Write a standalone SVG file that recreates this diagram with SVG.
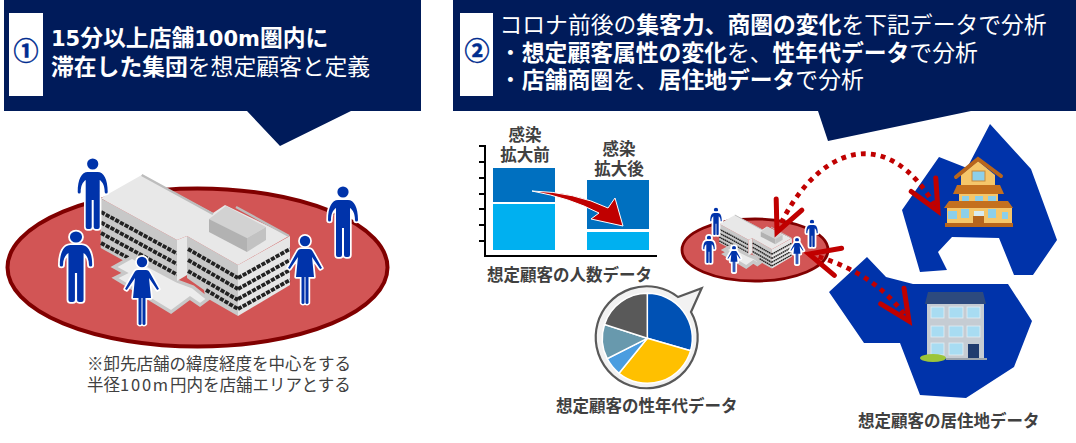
<svg xmlns="http://www.w3.org/2000/svg" xmlns:xlink="http://www.w3.org/1999/xlink" width="1076" height="443" viewBox="0 0 1076 443">
<style>
text{font-family:"Noto Sans CJK JP","Liberation Sans",sans-serif}
.w{fill:#fff;font-size:22.8px}
.b{font-weight:700}
.l{font-family:"DejaVu Sans",sans-serif;font-size:21px;font-weight:700}
.num{fill:#002d8f;stroke:#002d8f;stroke-width:.5;font-size:25px;font-weight:700;text-anchor:middle}
.cap{fill:#404040;font-size:16.5px;font-weight:700}
.note{fill:#404040;font-size:16.5px}
.ns{letter-spacing:1.8px}
.mid{text-anchor:middle}
.banner{fill:#001b5a}
.area{fill:#d25555;stroke:#800000}
.map{fill:#0033aa}
.person{fill:#0033aa;stroke:#fff;paint-order:stroke;stroke-linejoin:round}
.large{stroke-width:3.400}
.small{stroke-width:9}
.win{stroke:#222;stroke-width:3.800;stroke-dasharray:4.200 1.200;fill:none}
.dot{fill:none;stroke:#c00000;stroke-width:4.800;stroke-dasharray:4.800 5.200;marker-start:url(#v);marker-end:url(#v)}
.gl{fill:#8ccfea}
.ap{fill:#a8dcf2;stroke:#e4eef3;stroke-width:.8}
</style>
<defs>
<marker id="v" markerUnits="userSpaceOnUse" markerWidth="50" markerHeight="50" refX="36" refY="25" orient="auto-start-reverse" viewBox="0 0 50 50">
<path d="M6,11 L36,25 L6,39" fill="none" stroke="#c00000" stroke-width="5" stroke-linecap="round" stroke-dasharray="none"/>
</marker>
<g id="man"><circle class="person" cx="0" cy="0" r="5.600"/><path class="person" d="M-5,8H5C11,8 15,15 15,28a1.500,1.500 0 0 1-3,0C12,22 10,18 7,16V63a2,2 0 0 1-2,2H3a2,2 0 0 1-2-2V36H-1V63a2,2 0 0 1-2,2H-5a2,2 0 0 1-2-2V16C-10,18-12,22-12,28a1.500,1.500 0 0 1-3,0C-15,15-11,8-5,8Z"/></g>
<g id="woman"><circle class="person" cx="0" cy="0" r="5.200"/><path class="person" d="M-4,8H4C6,8 7,9 8,11L17,27 15.200,28 7,16 9,36H3.500V62a1.700,1.700 0 0 1-3,0V36H-0.500V62a1.700,1.700 0 0 1-3,0V36H-9L-7,16-15.200,28-17,27-8,11C-7,9-6,8-4,8Z"/></g>
<g id="building">
<polygon points="100.700,198.300 177,240 177,290 100.700,248" fill="#c8c8c8"/>
<g class="win"><path d="M101,212 177,253.500"/><path d="M101,222.500 177,264"/><path d="M101,233 177,274.500"/><path d="M101,243 177,284.500"/></g>
<polygon points="114,267 132,257 177,281 193,287 208,299 200,305 190,298 171,312 115,278 125,273" fill="#ececec" stroke="#c8c8c8"/>
<polygon points="177,240 187,236 187,275 177,281" fill="#e8e8e8"/>
<polygon points="187,236 238,265 238,316 205,297 204,290 187,278" fill="#c8c8c8"/>
<g class="win"><path d="M188,249 238,278"/><path d="M188,260 238,289"/><path d="M188,271 238,300"/><path d="M206,290 238,309"/></g>
<polygon points="238,265 290,236 290,285 238,316" fill="#e6e6e6"/>
<g class="win"><path d="M238,278 290,249"/><path d="M238,289 290,260"/><path d="M238,299 290,270"/><path d="M238,309 290,280"/></g>
<polygon points="100.700,198.300 141.700,175 213,213 225,205 289,236 238,265 187,236 177,240" fill="#e8e8e8"/>
<path d="M141.700,175 213,214M236,207 289,236" stroke="#bdbdbd" stroke-width="2.500" fill="none"/>
<polygon points="209,219 226,206 266,227 247,238" fill="#d2d2d2"/>
<polygon points="209,219 247,238 247,252 209,232" fill="#b2b2b2"/>
<polygon points="247,238 266,227 266,240 247,252" fill="#c2c2c2"/>
</g>
</defs>

<g id="banner-1">
<polygon class="banner" points="4,0 421,0 421,111 351,111 280,146 247,111 4,111"/>
<rect x="9" y="13" width="34" height="83" fill="#fff"/>
<text class="num" x="26" y="60">①</text>
<text class="w b" x="51" y="46"><tspan class="l">15</tspan>分以上店舗<tspan class="l">100m</tspan>圏内に</text>
<text class="w" x="51" y="75"><tspan class="b">滞在した集団</tspan>を想定顧客と定義</text>
</g>

<g id="banner-2">
<polygon class="banner" points="453,0 1076,0 1076,111 971,111 828,141 818,111 453,111"/>
<rect x="460" y="13" width="33" height="83" fill="#fff"/>
<text class="num" x="477" y="60">②</text>
<text class="w" x="499.500" y="33">コロナ前後の<tspan class="b">集客力、商圏の変化</tspan>を下記データで分析</text>
<text class="w" x="499" y="61">・<tspan class="b">想定顧客属性の変化</tspan>を、<tspan class="b">性年代データ</tspan>で分析</text>
<text class="w" x="499" y="88">・<tspan class="b">店舗商圏</tspan>を、<tspan class="b">居住地データ</tspan>で分析</text>
</g>

<g id="store-area-large" class="large">
<ellipse class="area" cx="197.500" cy="267.500" rx="190" ry="79" stroke-width="4"/>
<use href="#building"/>
<use href="#man" transform="translate(92.700,164)"/>
<use href="#man" transform="translate(76,237) scale(1.08,1)"/>
<use href="#man" transform="translate(343,192)"/>
<use href="#woman" transform="translate(142,262)"/>
<use href="#woman" transform="translate(305,241)"/>
</g>
<g id="note">
<text class="note" x="87" y="370">※卸先店舗の緯度経度を中心をする</text>
<text class="note" x="87" y="391">半径<tspan class="ns">100m</tspan>円内を店舗エリアとする</text>
</g>

<g id="count-chart">
<path d="M479,146H485V256M479,162H485M479,178H485M479,194H485M479,209H485M479,225H485M479,241H485M484,256H657" fill="none" stroke="#000" stroke-width="2"/>
<rect x="493" y="168" width="62" height="34" fill="#0070c0"/>
<rect x="493" y="204" width="62" height="46" fill="#00b0f0"/>
<rect x="587" y="180" width="62" height="49" fill="#0070c0"/>
<rect x="587" y="232" width="62" height="18" fill="#00b0f0"/>
<path d="M532,191Q575,192 608,208L615,198 623,226 591,219 599,213Q570,198 532,191Z" fill="#c00000" stroke="#fff" stroke-width="1"/>
<text class="cap mid" x="525" y="141">感染</text>
<text class="cap mid" x="525" y="161">拡大前</text>
<text class="cap mid" x="619" y="155">感染</text>
<text class="cap mid" x="619" y="175">拡大後</text>
<text class="cap" x="487" y="281">想定顧客の人数データ</text>
</g>

<g id="pie-bubble">
<path d="M678,297 701.700,288.300 691,312A51,51 0 1 1 678,297Z" fill="#f2f2f2" stroke="#595959" stroke-width="2.200"/>
<g stroke="#fff" stroke-width="1.500">
<path d="M647.300,338.300V293.300A45,45 0 0 1 690.600,350.700Z" fill="#0051b4"/>
<path d="M647.300,338.300L690.600,350.700A45,45 0 0 1 619,373.300Z" fill="#ffc000"/>
<path d="M647.300,338.300L619,373.300A45,45 0 0 1 607.200,358.700Z" fill="#4a9de0"/>
<path d="M647.300,338.300L607.200,358.700A45,45 0 0 1 604.500,324.400Z" fill="#6899ad"/>
<path d="M647.300,338.300L604.500,324.400A45,45 0 0 1 647.300,293.300Z" fill="#595959"/>
</g>
<text class="cap" x="556" y="412">想定顧客の性年代データ</text>
</g>

<g id="store-area-small" class="small">
<ellipse class="area" cx="755" cy="250" rx="73" ry="31" stroke-width="2.800"/>
<use href="#building" transform="translate(680.500,148.500) scale(.384,.38)"/>
<use href="#man" transform="translate(716,210) scale(.385)"/>
<use href="#man" transform="translate(709,238) scale(.385)"/>
<use href="#man" transform="translate(812,222) scale(.385)"/>
<use href="#woman" transform="translate(734,248) scale(.385)"/>
<use href="#woman" transform="translate(797,240) scale(.385)"/>
</g>

<g id="residence-house">
<polygon class="map" points="990,124 1031,169 1057,240 1033,275 1014,275 999,238 952,237 938,252 947,270 920,272 902,210 939,157 967,168"/>
<polygon points="961,187 961,175 978,161 995,175 995,187" fill="#f5c66a"/>
<path d="M956,177 978,159 1001,176" fill="none" stroke="#b8651b" stroke-width="4" stroke-linecap="round"/>
<rect x="972" y="171" width="13" height="10" fill="#8ccfea" stroke="#c98a3a"/>
<rect x="959" y="194" width="39" height="9" fill="#f5c66a"/>
<g class="gl"><rect x="962" y="196" width="7" height="9"/><rect x="975" y="196" width="8" height="9"/><rect x="988" y="196" width="8" height="9"/></g>
<polygon points="957,185 1000,185 1004,194 953,194" fill="#c4701e"/>
<polygon points="949,201 1008,201 1013,208 944,208" fill="#c4701e"/>
<rect x="947" y="208" width="65" height="16" fill="#f5c66a"/>
<g class="gl"><rect x="948" y="211" width="9" height="8"/><rect x="961" y="209" width="8" height="9"/><rect x="988" y="209" width="8" height="9"/><rect x="1002" y="212" width="6" height="7"/></g>
<rect x="974" y="211" width="10" height="5" fill="#d8ecf2"/>
<rect x="973" y="216" width="11" height="8" fill="#b5651d"/>
<rect x="945" y="223" width="68" height="4" fill="#b8651b"/>
</g>

<g id="residence-apartment">
<polygon class="map" points="867,257 886,277 913,284 1008,284 1032,321 1014,367 966,398 920,395 900,343 864,343 829,292"/>
<polygon points="928,292 983,292 986,304 925,304" fill="#2d4a7e"/>
<rect x="927" y="304" width="57" height="54" fill="#c5ccd3"/>
<g class="ap"><rect x="931" y="307" width="13" height="11"/><rect x="949" y="307" width="14" height="11"/><rect x="967" y="307" width="13" height="11"/><rect x="931" y="326" width="13" height="11"/><rect x="949" y="326" width="14" height="11"/><rect x="967" y="326" width="13" height="11"/><rect x="931" y="343" width="13" height="12"/><rect x="949" y="343" width="14" height="12"/></g>
<rect x="968" y="344" width="11" height="14" fill="#1f3b6e"/>
<rect x="946" y="358" width="41" height="2" fill="#9aa3ad"/>
<ellipse cx="933" cy="358" rx="13" ry="4" fill="#9cc53a"/>
<text class="cap" x="858" y="427">想定顧客の居住地データ</text>
</g>

<g id="connectors">
<path class="dot" d="M777,232C812,152 885,115 938,211"/>
<path class="dot" d="M809,254C850,265 885,285 909,321"/>
</g>
</svg>
